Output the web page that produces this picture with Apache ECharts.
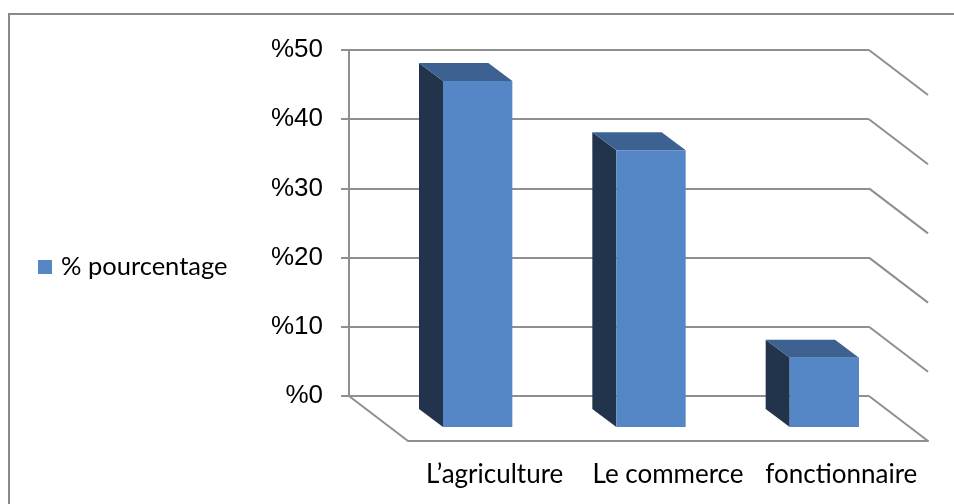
<!DOCTYPE html>
<html>
<head>
<meta charset="utf-8">
<script src="https://cdn.jsdelivr.net/npm/echarts@6/dist/echarts.min.js"></script>
<style>
  html, body { margin: 0; padding: 0; background: #fff; }
  #chart { width: 954px; height: 504px; }
</style>
</head>
<body>
<div id="chart"></div>
<script>
// Occupation categories and their share (percent)
var categories = ['L\u2019agriculture', 'Le commerce', 'fonctionnaire'];
var percentages = [50, 40, 10];
var seriesName = '% pourcentage';
var wallTicks = [0, 10, 20, 30, 40, 50];

// Oblique depth of the floor (front edge relative to back wall) and of a column
var FLOOR_DX = 59, FLOOR_DY = 45;
var FRONT_DX = -17, FRONT_DY = -14;   // column front face behind floor edge
var DEPTH_DX = -24, DEPTH_DY = -18;   // column thickness
var GRID_COLOR = '#8f8f8f';
var FACE = '#5586C5', SIDE = '#22344C', TOP = '#3D6291';

var chart = echarts.init(document.getElementById('chart'));

chart.setOption({
  animation: false,
  backgroundColor: '#fff',
  graphic: [
    { type: 'polyline', shape: { points: [[9, 504], [9, 14], [954, 14]] },
      style: { stroke: '#8a8a8a', lineWidth: 2, fill: null }, silent: true }
  ],
  legend: {
    left: 33, top: 249, orient: 'vertical',
    icon: 'rect', itemWidth: 14, itemHeight: 14,
    data: [seriesName],
    textStyle: { fontFamily: 'Lato', fontSize: 25.5, color: '#000', padding: [0, 0, 0, 4] }
  },
  grid: [
    // back wall
    { left: 349, top: 50, width: 520, height: 346 },
    // front (floor edge) plane
    { left: 408, top: 95, width: 520, height: 346 }
  ],
  xAxis: [
    { gridIndex: 0, type: 'value', min: 0, max: 1, show: false },
    { gridIndex: 1, type: 'category', data: categories,
      axisLine: { lineStyle: { color: GRID_COLOR, width: 2 } },
      axisTick: { length: 8, lineStyle: { color: GRID_COLOR, width: 2 } },
      axisLabel: { interval: 0, fontFamily: 'Lato', fontSize: 26, color: '#000', margin: 21 } }
  ],
  yAxis: [
    { gridIndex: 0, type: 'value', min: 0, max: 50, interval: 10,
      axisLine: { show: true, lineStyle: { color: GRID_COLOR, width: 2 } },
      axisTick: { show: true, length: 8, lineStyle: { color: GRID_COLOR, width: 2 } },
      splitLine: { show: true, lineStyle: { color: GRID_COLOR, width: 2 } },
      axisLabel: { formatter: '%{value}', fontFamily: 'Liberation Sans', fontSize: 26,
                   color: '#000', margin: 26 } },
    { gridIndex: 1, type: 'value', min: 0, max: 50, interval: 10, show: false }
  ],
  series: [
    {
      // side-wall and floor edges going toward the viewer
      type: 'custom', xAxisIndex: 0, yAxisIndex: 0, silent: true, z: 1,
      data: wallTicks,
      renderItem: function (params, api) {
        var v = api.value(0);
        var r = api.coord([1, v]);
        var children = [{
          type: 'line',
          shape: { x1: r[0], y1: r[1], x2: r[0] + FLOOR_DX, y2: r[1] + FLOOR_DY },
          style: { stroke: GRID_COLOR, lineWidth: 2 }
        }];
        if (v === 0) {
          var l = api.coord([0, 0]);
          children.push({
            type: 'line',
            shape: { x1: l[0], y1: l[1], x2: l[0] + FLOOR_DX, y2: l[1] + FLOOR_DY },
            style: { stroke: GRID_COLOR, lineWidth: 2 }
          });
        }
        return { type: 'group', children: children };
      }
    },
    {
      name: seriesName,
      type: 'custom', xAxisIndex: 1, yAxisIndex: 1, z: 5,
      itemStyle: { color: FACE },
      data: percentages.map(function (v, i) { return [i, v]; }),
      renderItem: function (params, api) {
        var i = api.value(0), v = api.value(1);
        var base = api.coord([i, 0]);
        var top = api.coord([i, v]);
        var w = api.size([1, 0])[0] * 0.4;
        var xl = base[0] - w / 2 + FRONT_DX, xr = xl + w;
        var yb = base[1] + FRONT_DY, yt = top[1] + FRONT_DY;
        return {
          type: 'group',
          children: [
            { type: 'polygon',
              shape: { points: [[xl, yt], [xl, yb], [xl + DEPTH_DX, yb + DEPTH_DY], [xl + DEPTH_DX, yt + DEPTH_DY]] },
              style: { fill: SIDE } },
            { type: 'polygon',
              shape: { points: [[xl, yt], [xr, yt], [xr + DEPTH_DX, yt + DEPTH_DY], [xl + DEPTH_DX, yt + DEPTH_DY]] },
              style: { fill: TOP } },
            { type: 'rect', shape: { x: xl, y: yt, width: w, height: yb - yt },
              style: { fill: FACE } }
          ]
        };
      }
    }
  ]
});
</script>
</body>
</html>
